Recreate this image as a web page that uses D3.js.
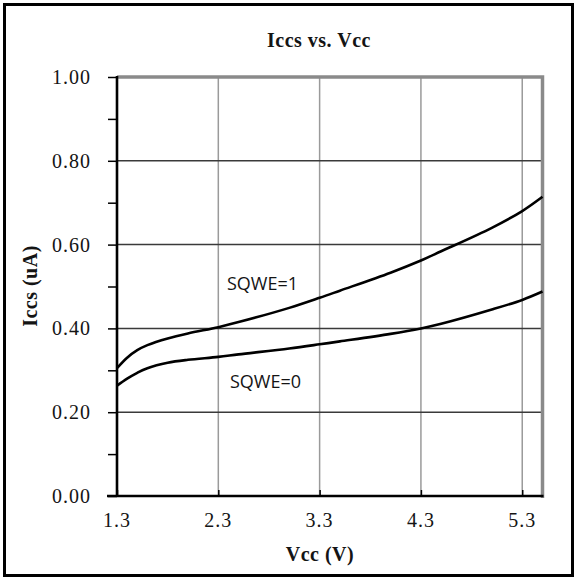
<!DOCTYPE html>
<html>
<head>
<meta charset="utf-8">
<script src="https://cdn.jsdelivr.net/npm/d3@7"></script>
<style>
  body { margin: 0; background: #fff; }
  svg text { fill: #141414; }
</style>
</head>
<body>
<div id="chart"></div>
<script>
// values
var vcc   = [1.3, 1.4, 1.5, 1.6, 1.8, 2.0, 2.3, 2.5, 3.0, 3.3, 3.5, 4.0, 4.3, 4.5, 5.0, 5.3, 5.5]
var sqwe1 = [.305, .330, .348, .360, .376, .388, .403, .415, .449, .473, .490, .533, .562, .584, .640, .680, .714]
var sqwe0 = [.263, .280, .294, .305, .318, .325, .332, .338, .352, .362, .369, .387, .400, .411, .445, .468, .488]
var xTicks = [1.3, 2.3, 3.3, 4.3, 5.3]
var yTicks = [0, .2, .4, .6, .8, 1]
var yMinor = [.1, .3, .5, .7, .9]

var width = 577, height = 580
var x = d3.scaleLinear().domain([1.3, 5.5]).range([117, 542.5])
var y = d3.scaleLinear().domain([0, 1]).range([496, 77])

var svg = d3.select('#chart').append('svg')
    .attr('width', width).attr('height', height)

// outer frame
svg.append('rect')
    .attr('x', 4.5).attr('y', 4.5).attr('width', width - 9).attr('height', height - 9)
    .attr('fill', 'none').attr('stroke', '#000').attr('stroke-width', 3)

// vertical gridlines
svg.selectAll('.vgrid').data(xTicks.slice(1)).enter().append('line')
    .attr('x1', d => x(d)).attr('x2', d => x(d))
    .attr('y1', y(1)).attr('y2', y(0))
    .attr('stroke', '#9a9a9a').attr('stroke-width', 1.5)

// horizontal gridlines
svg.selectAll('.hgrid').data(yTicks.slice(1, -1)).enter().append('line')
    .attr('x1', x(1.3)).attr('x2', x(5.5))
    .attr('y1', d => y(d)).attr('y2', d => y(d))
    .attr('stroke', '#3a3a3a').attr('stroke-width', 1.5)

// plot box: grey top and right edges
svg.append('path')
    .attr('d', 'M' + x(1.3) + ',' + y(1) + 'H' + x(5.5) + 'V' + (y(0) + 2))
    .attr('fill', 'none').attr('stroke', '#8a8a8a').attr('stroke-width', 3.5)

// curves
var line = d3.line()
    .x((d, i) => x(vcc[i]))
    .y(d => y(d))
    .curve(d3.curveCatmullRom.alpha(0.5))

svg.selectAll('.curve').data([sqwe1, sqwe0]).enter().append('path')
    .attr('d', line)
    .attr('fill', 'none').attr('stroke', '#000').attr('stroke-width', 2.6)

// y axis
var yAxis = svg.append('g')
    .attr('transform', 'translate(' + x(1.3) + ',0)')
    .call(d3.axisLeft(y).tickValues(yTicks.concat(yMinor)).tickSize(9).tickPadding(0).tickFormat(''))
yAxis.select('.domain').attr('stroke-width', 2.6).attr('d', 'M0,' + (y(1) - 1) + 'V' + (y(0) + 1))
yAxis.selectAll('.tick line').attr('stroke-width', 1.5)

yAxis.selectAll('.ylab').data(yTicks).enter().append('text')
    .attr('x', -26).attr('y', d => y(d) + 7)
    .attr('text-anchor', 'end')
    .style('font', '20px "Liberation Serif", serif')
    .style('letter-spacing', '1px')
    .text(d => d3.format('.2f')(d))

// x axis
var xAxis = svg.append('g')
    .attr('transform', 'translate(0,' + y(0) + ')')
    .call(d3.axisBottom(x).tickValues(xTicks).tickSize(-6).tickFormat(''))
xAxis.select('.domain').attr('stroke-width', 2.6).attr('d', 'M' + (x(1.3) - 10) + ',0H' + (x(5.5) + 1))
xAxis.selectAll('.tick line').attr('stroke-width', 1.5)

xAxis.selectAll('.xlab').data(xTicks).enter().append('text')
    .attr('x', d => x(d)).attr('y', 31)
    .attr('text-anchor', 'middle')
    .style('font', '20px "Liberation Serif", serif')
    .style('letter-spacing', '1px')
    .text(d => d3.format('.1f')(d))

// titles
svg.append('text')
    .attr('x', 319).attr('y', 47)
    .attr('text-anchor', 'middle')
    .style('font', 'bold 20px "Liberation Serif", serif')
    .style('letter-spacing', '0.5px')
    .text('Iccs vs. Vcc')

svg.append('text')
    .attr('x', 320).attr('y', 561)
    .attr('text-anchor', 'middle')
    .style('font', 'bold 20px "Liberation Serif", serif')
    .style('letter-spacing', '0.5px')
    .text('Vcc (V)')

svg.append('text')
    .attr('transform', 'translate(37,286) rotate(-90)')
    .attr('text-anchor', 'middle')
    .style('font', 'bold 20px "Liberation Serif", serif')
    .style('letter-spacing', '0.5px')
    .text('Iccs (uA)')

// series labels
svg.append('text')
    .attr('x', 227).attr('y', 290)
    .style('font', '18px "Open Sans", sans-serif')
    .text('SQWE=1')

svg.append('text')
    .attr('x', 230).attr('y', 388)
    .style('font', '18px "Open Sans", sans-serif')
    .text('SQWE=0')
</script>
</body>
</html>
